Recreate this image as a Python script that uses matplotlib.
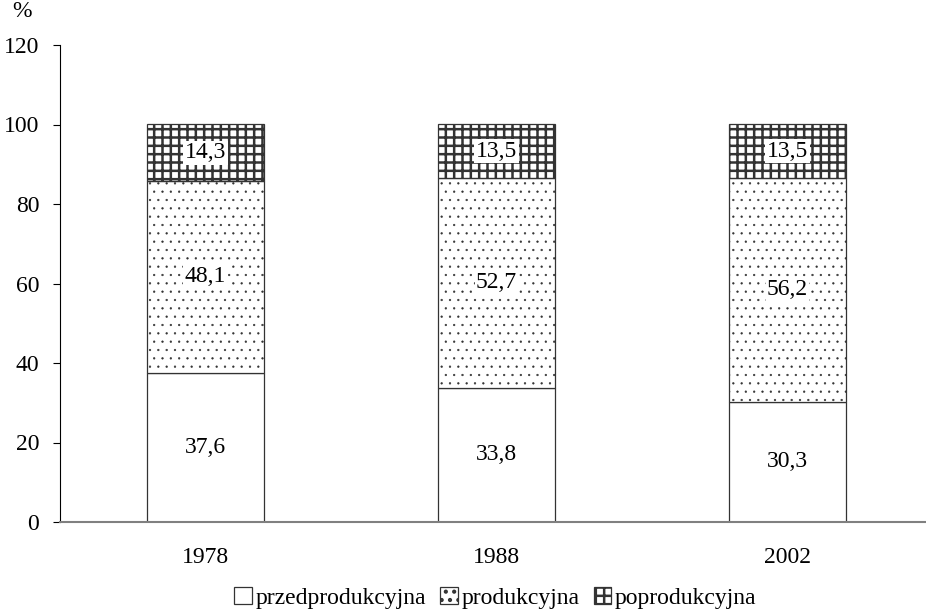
import matplotlib.pyplot as plt
import numpy as np

plt.rcParams['font.family'] = ['Liberation Serif', 'DejaVu Serif']
plt.rcParams['hatch.linewidth'] = 1.8

years = ["1978", "1988", "2002"]
przed = [37.6, 33.8, 30.3]
prod = [48.1, 52.7, 56.2]
poprod = [14.3, 13.5, 13.5]
series_names = ["przedprodukcyjna", "produkcyjna", "poprodukcyjna"]


def fmt(v):
	return ("%.1f" % v).replace(".", ",")


fig = plt.figure(figsize=(9.26, 6.09), dpi=100)
ax = fig.add_axes([60/926, 87/609, 866/926, 477/609])

x = np.arange(len(years))
w = 0.405
bottom = np.zeros(len(years))
styles = [("", False), ("..", True), ("++", True)]
for vals, name, (hatch, box) in zip([przed, prod, poprod], series_names, styles):
	bars = ax.bar(x, vals, w, bottom=bottom, color="white", edgecolor="#333333",
		linewidth=0.9, hatch=hatch, label=name)
	if hatch == "..":
		for b in bars:
			b.set_hatch_linewidth(0.4)
	for xi, b0, v in zip(x, bottom, vals):
		kw = {}
		if box:
			kw["bbox"] = dict(facecolor="white", edgecolor="none", pad=1.0)
		ax.text(xi, b0 + v / 2, fmt(v), ha="center", va="center", fontsize=17, **kw)
	bottom = bottom + np.array(vals)

ax.set_xlim(-0.5, 2.476)
ax.set_ylim(0, 120)
ax.set_yticks(range(0, 121, 20))
ax.set_xticks(x)
ax.set_xticklabels(years)
ax.tick_params(axis="y", labelsize=17, length=5, direction="out", pad=10)
ax.tick_params(axis="x", labelsize=17, length=0, pad=18)
ax.spines["top"].set_visible(False)
ax.spines["right"].set_visible(False)
ax.spines["bottom"].set_color("#808080")
ax.spines["bottom"].set_linewidth(1.5)
ax.text(-0.044, 1.048, "%", transform=ax.transAxes, fontsize=17, ha="center", va="bottom")

leg = fig.legend(loc="lower center", bbox_to_anchor=(0.535, -0.035), ncol=3, frameon=False,
	fontsize=17, handlelength=0.75, handleheight=0.75, handletextpad=0.15, columnspacing=0.6)

fig.savefig("out.png", dpi=100)
